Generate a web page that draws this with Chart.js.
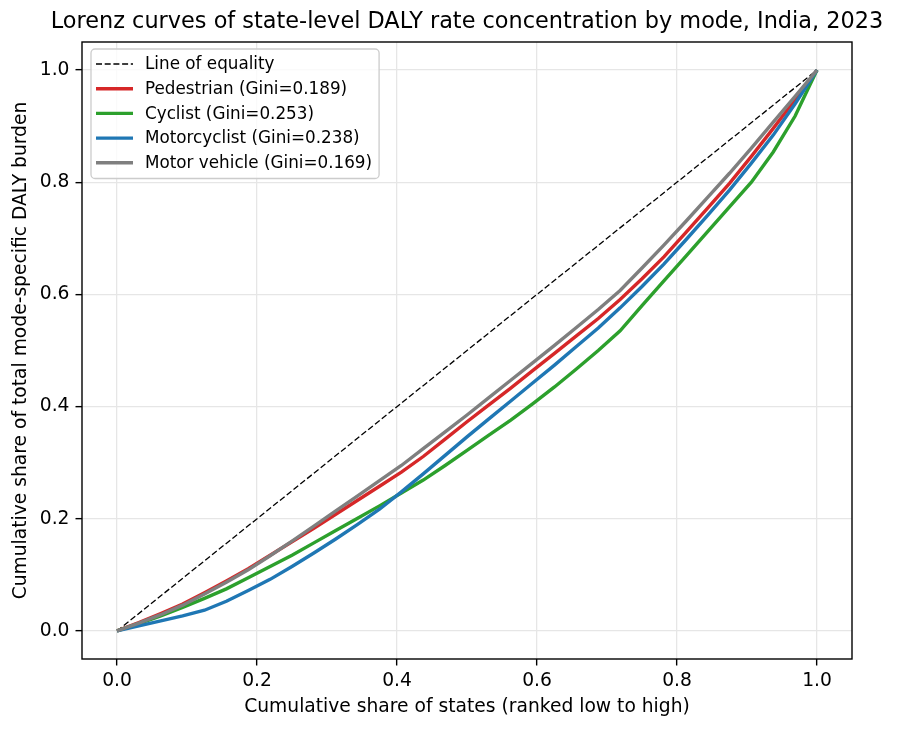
<!DOCTYPE html>
<html>
<head>
<meta charset="utf-8">
<script src="https://cdn.jsdelivr.net/npm/chart.js@4.4.1/dist/chart.umd.min.js"></script>
<style>
  html, body { margin: 0; padding: 0; background: #fff; }
  canvas { display: block; }
</style>
</head>
<body>
<canvas id="lorenzChart" width="900" height="730"></canvas>
<script>
// cumulative share of states (33 points, states ranked low to high)
const shareStates = [0, 0.03125, 0.0625, 0.09375, 0.125, 0.15625, 0.1875, 0.21875, 0.25,
  0.28125, 0.3125, 0.34375, 0.375, 0.40625, 0.4375, 0.46875, 0.5, 0.53125, 0.5625,
  0.59375, 0.625, 0.65625, 0.6875, 0.71875, 0.75, 0.78125, 0.8125, 0.84375, 0.875,
  0.90625, 0.9375, 0.96875, 1];

// cumulative share of DALY burden
const pedestrian = [0, 0.015, 0.031, 0.048, 0.068, 0.089, 0.111, 0.135, 0.159, 0.183,
  0.208, 0.233, 0.258, 0.283, 0.311, 0.342, 0.373, 0.403, 0.433, 0.464, 0.495, 0.526,
  0.557, 0.591, 0.628, 0.667, 0.710, 0.754, 0.798, 0.846, 0.896, 0.947, 1];
const cyclist = [0, 0.013, 0.027, 0.042, 0.058, 0.075, 0.095, 0.115, 0.135, 0.157,
  0.179, 0.201, 0.223, 0.246, 0.269, 0.295, 0.322, 0.349, 0.376, 0.405, 0.435, 0.467,
  0.500, 0.535, 0.580, 0.624, 0.668, 0.712, 0.756, 0.800, 0.854, 0.918, 1];
const motorcyclist = [0, 0.009, 0.018, 0.027, 0.037, 0.053, 0.072, 0.092, 0.115, 0.139,
  0.164, 0.190, 0.217, 0.248, 0.280, 0.313, 0.346, 0.378, 0.410, 0.442, 0.474, 0.507,
  0.540, 0.576, 0.614, 0.654, 0.697, 0.741, 0.786, 0.834, 0.884, 0.940, 1];
const motorVehicle = [0, 0.014, 0.029, 0.046, 0.066, 0.087, 0.109, 0.134, 0.160, 0.187,
  0.214, 0.241, 0.268, 0.295, 0.325, 0.355, 0.385, 0.416, 0.447, 0.478, 0.509, 0.541,
  0.573, 0.607, 0.647, 0.688, 0.730, 0.773, 0.816, 0.861, 0.907, 0.953, 1];

const equalityX = [0, 1];
const equalityY = [0, 1];

const modeNames = ['Pedestrian', 'Cyclist', 'Motorcyclist', 'Motor vehicle'];
const giniValues = [0.189, 0.253, 0.238, 0.169];
const tickValues = [0, 0.2, 0.4, 0.6, 0.8, 1.0];

const FONT = 'DejaVu Sans';
const FS = 18.7;      // ticks and axis titles
const LEG_FS = 16.8;  // legend text
Chart.defaults.font.family = FONT;
Chart.defaults.font.size = FS;
Chart.defaults.color = '#000';

function toPoints(xs, ys) {
  return xs.map((x, i) => ({ x: x, y: ys[i] }));
}

const modeSeries = [pedestrian, cyclist, motorcyclist, motorVehicle];
const modeColors = ['#d62728', '#2ca02c', '#1f77b4', '#7f7f7f'];

const datasets = [{
  label: 'Line of equality',
  data: toPoints(equalityX, equalityY),
  borderColor: '#000',
  borderWidth: 1.3,
  borderDash: [6, 2.7],
  pointRadius: 0,
  order: 5
}];
modeSeries.forEach((vals, i) => {
  datasets.push({
    label: modeNames[i] + ' (Gini=' + giniValues[i].toFixed(3) + ')',
    data: toPoints(shareStates, vals),
    borderColor: modeColors[i],
    borderWidth: 3.4,
    pointRadius: 0,
    tension: 0,
    order: 4 - i
  });
});

// frame around the axes, like matplotlib spines
const framePlugin = {
  id: 'frame',
  afterDatasetsDraw(chart) {
    const a = chart.chartArea, ctx = chart.ctx;
    ctx.save();
    ctx.strokeStyle = '#000';
    ctx.lineWidth = 1.4;
    ctx.strokeRect(a.left, a.top, a.right - a.left, a.bottom - a.top);
    ctx.restore();
  }
};

// title centred over the plot area
const titlePlugin = {
  id: 'axTitle',
  afterDraw(chart) {
    const a = chart.chartArea, ctx = chart.ctx;
    ctx.save();
    ctx.font = '22.4px "' + FONT + '"';
    ctx.fillStyle = '#000';
    ctx.textAlign = 'center';
    ctx.textBaseline = 'middle';
    ctx.fillText('Lorenz curves of state-level DALY rate concentration by mode, India, 2023',
      (a.left + a.right) / 2, 22);
    ctx.restore();
  }
};

// legend inside the upper-left corner
const legendPlugin = {
  id: 'innerLegend',
  afterDraw(chart) {
    const ctx = chart.ctx, a = chart.chartArea;
    const sets = chart.data.datasets;
    ctx.save();
    ctx.font = LEG_FS + 'px "' + FONT + '"';
    let maxW = 0;
    sets.forEach(d => { maxW = Math.max(maxW, ctx.measureText(d.label).width); });
    const x0 = a.left + 9, y0 = a.top + 7;
    const rowH = 24.7;
    const w = 54 + maxW + 7;
    const h = rowH * sets.length + 6;
    ctx.beginPath();
    ctx.roundRect(x0, y0, w, h, 4);
    ctx.fillStyle = 'rgba(255,255,255,0.8)';
    ctx.fill();
    ctx.strokeStyle = '#cccccc';
    ctx.lineWidth = 1.3;
    ctx.stroke();
    sets.forEach((d, i) => {
      const cy = y0 + 15 + i * rowH;
      ctx.beginPath();
      ctx.setLineDash(d.borderDash || []);
      ctx.strokeStyle = d.borderColor;
      ctx.lineWidth = d.borderWidth;
      ctx.moveTo(x0 + 5, cy);
      ctx.lineTo(x0 + 42, cy);
      ctx.stroke();
      ctx.setLineDash([]);
      ctx.fillStyle = '#000';
      ctx.textAlign = 'left';
      ctx.textBaseline = 'middle';
      ctx.fillText(d.label, x0 + 54, cy + 1);
    });
    ctx.restore();
  }
};

function fixedTicks(scale) {
  scale.ticks = tickValues.map(v => ({ value: v }));
}

const ctx = document.getElementById('lorenzChart').getContext('2d');
new Chart(ctx, {
  type: 'line',
  data: { datasets: datasets },
  options: {
    responsive: false,
    animation: false,
    devicePixelRatio: 1,
    layout: { padding: { top: 42, right: 48, left: 0, bottom: 0 } },
    plugins: {
      legend: { display: false },
      title: { display: false },
      tooltip: { enabled: false }
    },
    scales: {
      x: {
        type: 'linear',
        min: -0.05,
        max: 1.05,
        afterBuildTicks: fixedTicks,
        afterFit: s => { s.height = 71; },
        border: { display: false },
        grid: { color: '#e6e6e6', lineWidth: 1.3, tickColor: '#000', tickLength: 6.5, tickWidth: 1.4 },
        ticks: { padding: 4, maxRotation: 0, callback: v => v.toFixed(1) },
        title: {
          display: true,
          text: 'Cumulative share of states (ranked low to high)',
          padding: { top: 0, bottom: 12 }
        }
      },
      y: {
        type: 'linear',
        min: -0.05,
        max: 1.05,
        afterBuildTicks: fixedTicks,
        afterFit: s => { s.width = 82; },
        border: { display: false },
        grid: { color: '#e6e6e6', lineWidth: 1.3, tickColor: '#000', tickLength: 6.5, tickWidth: 1.4 },
        ticks: { padding: 6, callback: v => v.toFixed(1) },
        title: {
          display: true,
          text: 'Cumulative share of total mode-specific DALY burden',
          padding: { top: 10, bottom: 0 }
        }
      }
    }
  },
  plugins: [framePlugin, titlePlugin, legendPlugin]
});
</script>
</body>
</html>
